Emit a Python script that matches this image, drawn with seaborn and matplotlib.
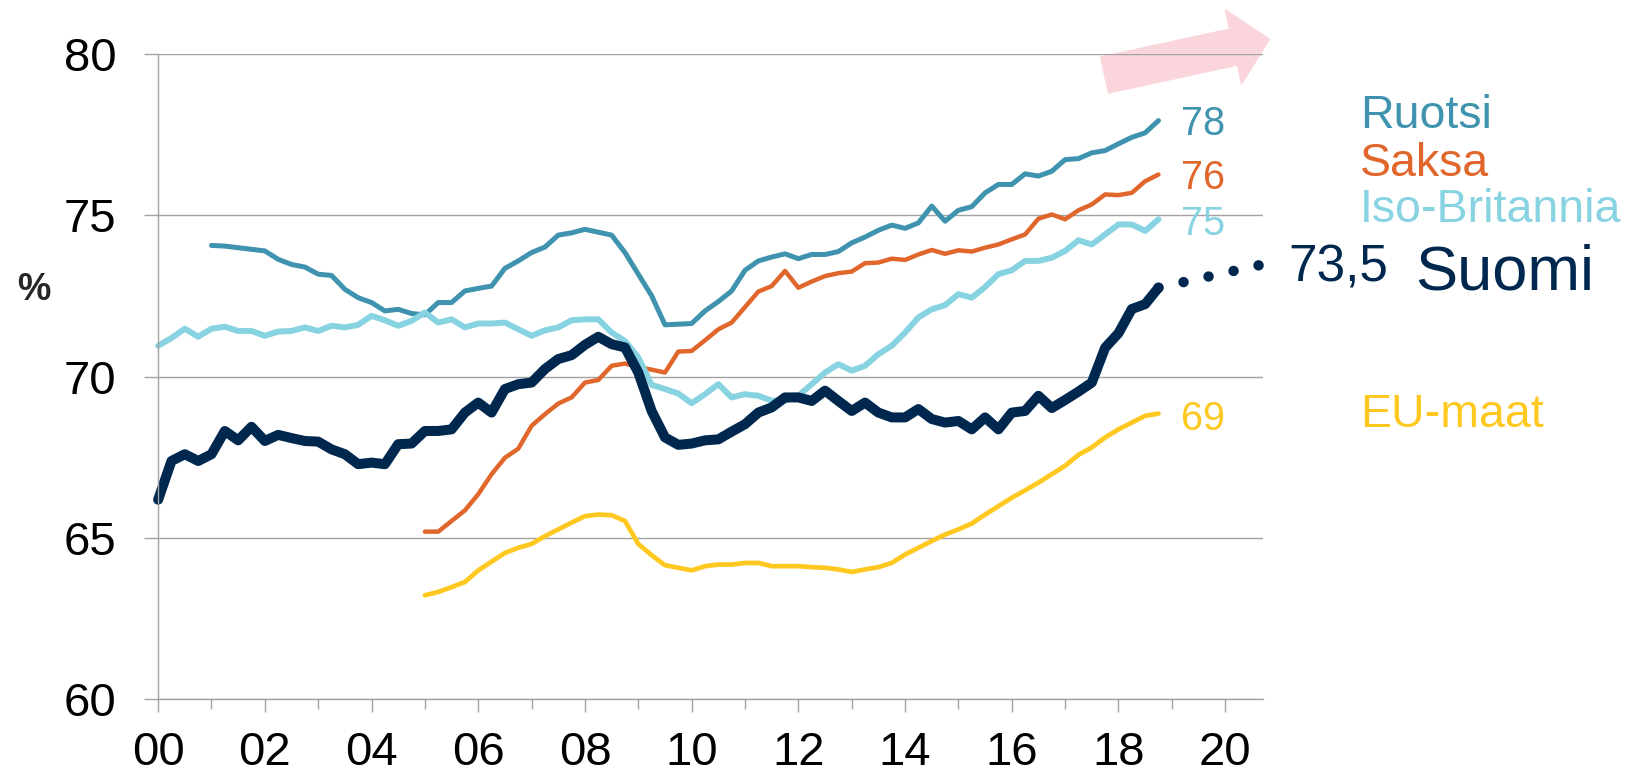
import matplotlib
matplotlib.use("Agg")
import matplotlib.pyplot as plt
import seaborn as sns
import numpy as np
import pandas as pd
from matplotlib.patches import FancyArrowPatch

# Quarterly employment rates (%), x in years since 2000
suomi_start = 0.0
suomi = [66.19, 67.39, 67.60, 67.39, 67.60, 68.32, 68.03, 68.45, 68.01, 68.20,
         68.10, 68.01, 67.99, 67.75, 67.60, 67.29, 67.34, 67.29, 67.91, 67.93,
         68.32, 68.32, 68.37, 68.89, 69.20, 68.89, 69.62, 69.77, 69.82, 70.24,
         70.55, 70.67, 70.99, 71.24, 71.01, 70.91, 70.13, 68.94, 68.12, 67.89,
         67.93, 68.03, 68.06, 68.30, 68.53, 68.89, 69.05, 69.36, 69.36, 69.25,
         69.57, 69.25, 68.94, 69.20, 68.89, 68.74, 68.74, 69.00, 68.69, 68.58,
         68.63, 68.37, 68.74, 68.37, 68.89, 68.94, 69.41, 69.03, 69.28, 69.54,
         69.82, 70.90, 71.35, 72.10, 72.25, 72.76]

ruotsi_start = 1.0
ruotsi = [74.07, 74.05, 74.00, 73.95, 73.90, 73.64, 73.48, 73.40, 73.18, 73.14,
          72.71, 72.45, 72.30, 72.04, 72.09, 71.96, 71.92, 72.30, 72.30, 72.66,
          72.74, 72.81, 73.36, 73.59, 73.85, 74.02, 74.39, 74.46, 74.57, 74.48,
          74.39, 73.85, 73.18, 72.51, 71.61, 71.63, 71.65, 72.04, 72.33, 72.66,
          73.30, 73.59, 73.71, 73.81, 73.66, 73.79, 73.79, 73.88, 74.15, 74.33,
          74.54, 74.70, 74.60, 74.77, 75.29, 74.82, 75.16, 75.27, 75.70, 75.96,
          75.96, 76.29, 76.22, 76.37, 76.73, 76.76, 76.94, 77.01, 77.22, 77.42,
          77.56, 77.94]

saksa_start = 5.0
saksa = [65.20, 65.20, 65.53, 65.86, 66.36, 66.98, 67.49, 67.77, 68.48, 68.84,
         69.17, 69.36, 69.82, 69.90, 70.34, 70.41, 70.30, 70.22, 70.13, 70.78,
         70.80, 71.13, 71.47, 71.68, 72.16, 72.64, 72.81, 73.28, 72.76, 72.95,
         73.12, 73.21, 73.26, 73.52, 73.54, 73.66, 73.62, 73.79, 73.93, 73.81,
         73.92, 73.88, 74.00, 74.10, 74.26, 74.41, 74.90, 75.03, 74.88, 75.16,
         75.34, 75.65, 75.63, 75.70, 76.06, 76.27]

britannia_start = 0.0
britannia = [70.96, 71.20, 71.49, 71.24, 71.49, 71.55, 71.42, 71.42, 71.27, 71.40,
             71.42, 71.53, 71.42, 71.58, 71.53, 71.61, 71.89, 71.75, 71.58, 71.73,
             71.99, 71.68, 71.78, 71.53, 71.65, 71.65, 71.68, 71.47, 71.27, 71.44,
             71.53, 71.75, 71.78, 71.78, 71.37, 71.11, 70.60, 69.75, 69.62, 69.48,
             69.18, 69.46, 69.77, 69.36, 69.46, 69.41, 69.26, 69.26, 69.41, 69.77,
             70.13, 70.39, 70.19, 70.34, 70.70, 70.96, 71.37, 71.84, 72.09, 72.22,
             72.56, 72.45, 72.78, 73.18, 73.30, 73.59, 73.59, 73.69, 73.90, 74.23,
             74.10, 74.41, 74.72, 74.72, 74.52, 74.88]

eu_start = 5.0
eu = [63.23, 63.33, 63.48, 63.64, 64.00, 64.27, 64.54, 64.70, 64.82, 65.06,
      65.27, 65.48, 65.68, 65.73, 65.71, 65.53, 64.82, 64.47, 64.16, 64.08,
      64.00, 64.13, 64.18, 64.18, 64.23, 64.23, 64.13, 64.13, 64.13, 64.10,
      64.08, 64.03, 63.95, 64.03, 64.10, 64.23, 64.49, 64.70, 64.91, 65.11,
      65.27, 65.45, 65.73, 65.99, 66.25, 66.48, 66.72, 66.98, 67.24, 67.58,
      67.81, 68.12, 68.37, 68.58, 68.79, 68.86]

# Finland target path
forecast_x = [18.75, 20.7]
forecast_y = [72.76, 73.48]

end_labels = ["78", "76", "75", "69"]
legend_names = ["Ruotsi", "Saksa", "Iso-Britannia", "EU-maat"]
year_ticks = list(range(0, 21, 2))
year_labels = [f"{y:02d}" for y in year_ticks]

c_suomi = "#00284f"
c_ruotsi = "#3f93ae"
c_saksa = "#e0662b"
c_brit = "#87d3e1"
c_eu = "#ffc820"
grid_c = "#a3a3a3"


def frame(values, start):
    t = start + 0.25 * np.arange(len(values))
    return pd.DataFrame({"year": t, "rate": values})


sns.set_style("white")
plt.rcParams["font.family"] = ["Liberation Sans", "DejaVu Sans"]

fig = plt.figure(figsize=(16.32, 7.75), dpi=100)
ax = fig.add_axes([0.0969, 0.0975, 0.6767, 0.8327])

series = [
    (eu, eu_start, c_eu, 3.4),
    (saksa, saksa_start, c_saksa, 3.2),
    (ruotsi, ruotsi_start, c_ruotsi, 3.6),
    (britannia, britannia_start, c_brit, 4.3),
    (suomi, suomi_start, c_suomi, 7.2),
]
for vals, start, col, lw in series:
    sns.lineplot(data=frame(vals, start), x="year", y="rate", ax=ax,
                 color=col, linewidth=lw, solid_capstyle="round",
                 solid_joinstyle="round", clip_on=False)

# dotted path towards the target
ax.plot(forecast_x, forecast_y, color=c_suomi, linewidth=7.5,
        linestyle=(0, (0.01, 2.45)), dash_capstyle="round", clip_on=False)

ax.set_xlim(0, 20.7)
ax.set_ylim(60, 80)
ax.set_yticks([60, 65, 70, 75, 80])
ax.set_xticks(year_ticks)
ax.set_xticklabels(year_labels)
ax.set_xticks(range(1, 20, 2), minor=True)
ax.set_xlabel("")
ax.set_ylabel("")

ax.grid(axis="y", color=grid_c, linewidth=1.0)
ax.grid(axis="x", visible=False)
ax.set_axisbelow(True)
for s in ["top", "right"]:
    ax.spines[s].set_visible(False)
for s in ["left", "bottom"]:
    ax.spines[s].set_color(grid_c)
    ax.spines[s].set_linewidth(1.0)

ax.tick_params(axis="y", which="major", left=True, length=10, width=1.0,
               color=grid_c, pad=20, labelsize=34, labelcolor="black")
ax.tick_params(axis="x", which="major", bottom=True, length=9.6, width=1.0,
               color=grid_c, pad=13, labelsize=34, labelcolor="black")
ax.tick_params(axis="x", which="minor", bottom=True, length=7.4, width=1.0,
               color=grid_c)

# pink trend arrow
arrow = FancyArrowPatch((17.74, 79.35), (20.83, 80.46),
                        arrowstyle="simple,head_length=26.5,head_width=54.5,tail_width=26.5",
                        mutation_scale=1, shrinkA=0, shrinkB=0,
                        color="#fad5db", clip_on=False, zorder=0.5)
ax.add_patch(arrow)

# end values
end_y = [77.49, 75.81, 74.39, 68.35]
end_cols = [c_ruotsi, c_saksa, c_brit, c_eu]
for lab, y, col in zip(end_labels, end_y, end_cols):
    ax.text(19.18, y, lab, color=col, fontsize=28.5, ha="left", va="baseline",
            clip_on=False)

# series names
name_y = [77.72, 76.22, 74.81, 68.45]
for lab, y, col in zip(legend_names, name_y, end_cols):
    ax.text(22.53, y, lab, color=col, fontsize=33.5, ha="left", va="baseline",
            clip_on=False)

ax.text(21.18, 72.95, "73,5", color=c_suomi, fontsize=37, ha="left",
        va="baseline", clip_on=False)
ax.text(23.57, 72.69, "Suomi", color=c_suomi, fontsize=45.5, ha="left",
        va="baseline", clip_on=False)

fig.text(34 / 1632, 1 - 290 / 775, "%", fontsize=27, fontweight="bold",
         ha="center", va="center")

fig.savefig("out.png", dpi=100)
